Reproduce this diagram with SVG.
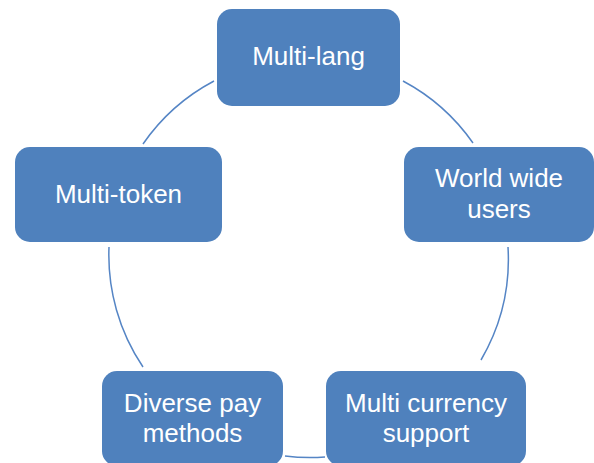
<svg xmlns="http://www.w3.org/2000/svg" width="594" height="463" viewBox="0 0 594 463">
<style>
.node{fill:#4F81BD;}
.lbl{fill:#FFFFFF;font-family:"Liberation Sans",Arial,sans-serif;font-size:26px;text-anchor:middle;}
.arc{fill:none;stroke:#5585C5;stroke-width:1.5;}
</style>
<rect width="594" height="463" fill="#FFFFFF"/>
<g id="connectors">
<path class="arc" d="M403,81 A200,200 0 0 1 473,143"/>
<path class="arc" d="M508,247 A200,200 0 0 1 481,360"/>
<path class="arc" d="M325,457 A200,200 0 0 1 285,456"/>
<path class="arc" d="M143,367 A200,200 0 0 1 109,247"/>
<path class="arc" d="M143,144 A200,200 0 0 1 214,81"/>
</g>
<g id="multi-lang">
<rect class="node" x="217" y="9" width="183" height="97" rx="15"/>
<text class="lbl" x="308.5" y="65">Multi-lang</text>
</g>
<g id="world-wide-users">
<rect class="node" x="404" y="147" width="190" height="95" rx="15"/>
<text class="lbl" x="499" y="187">World wide</text>
<text class="lbl" x="499" y="218">users</text>
</g>
<g id="multi-token">
<rect class="node" x="15" y="147" width="207" height="95" rx="15"/>
<text class="lbl" x="118.5" y="203">Multi-token</text>
</g>
<g id="diverse-pay-methods">
<rect class="node" x="102" y="371" width="181" height="95" rx="15"/>
<text class="lbl" x="192.5" y="412">Diverse pay</text>
<text class="lbl" x="192.5" y="442">methods</text>
</g>
<g id="multi-currency-support">
<rect class="node" x="326" y="371" width="200" height="95" rx="15"/>
<text class="lbl" x="426" y="412">Multi currency</text>
<text class="lbl" x="426" y="442">support</text>
</g>
</svg>
